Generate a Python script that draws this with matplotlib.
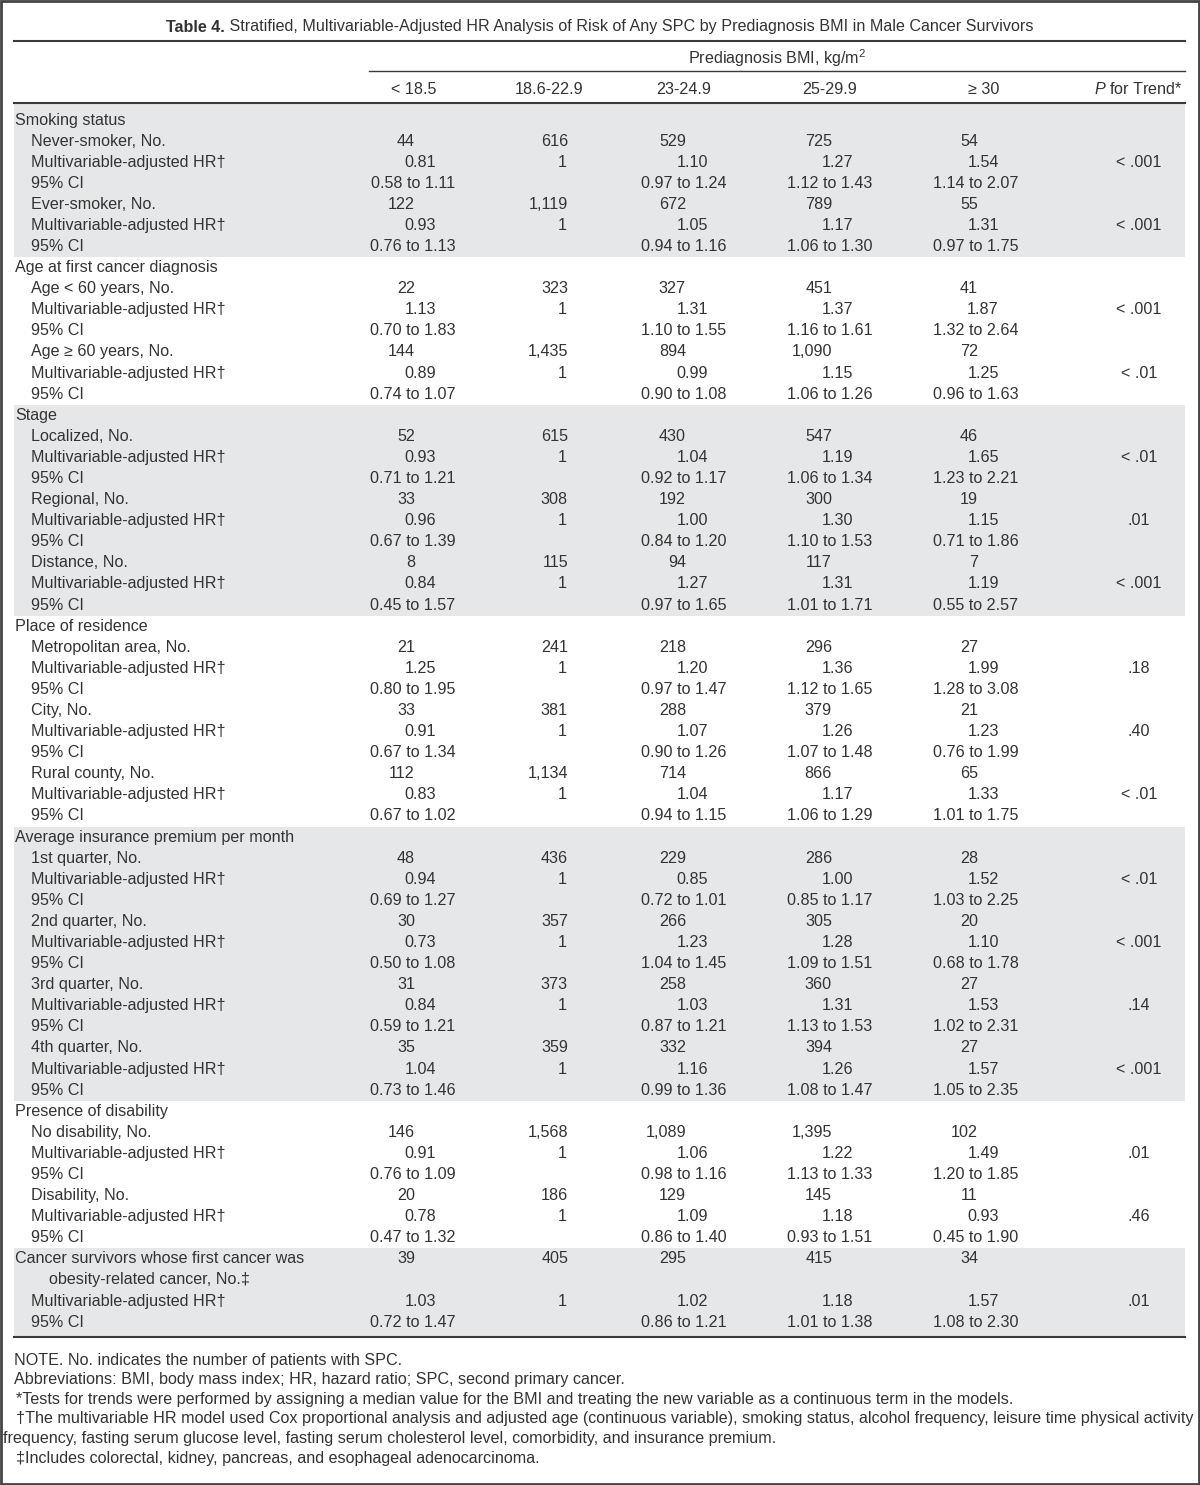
import matplotlib
matplotlib.use("Agg")
import matplotlib.pyplot as plt
from matplotlib.patches import Rectangle

plt.rcParams['font.family'] = ['Liberation Sans', 'DejaVu Sans']
plt.rcParams['mathtext.fontset'] = 'custom'
plt.rcParams['mathtext.rm'] = 'Liberation Sans'
plt.rcParams['mathtext.it'] = 'Liberation Sans:italic'

# ---- table data ----
bmi_groups = ["< 18.5", "18.6-22.9", "23-24.9", "25-29.9", "≥ 30"]

section_names = ["Smoking status", "Age at first cancer diagnosis", "Stage",
                 "Place of residence", "Average insurance premium per month",
                 "Presence of disability",
                 "Cancer survivors whose first cancer was\nobesity-related cancer, No.‡"]

# which section each subgroup belongs to
subgroup_section = [0, 0, 1, 1, 2, 2, 2, 3, 3, 3, 4, 4, 4, 4, 5, 5, 6]
subgroup_labels = ["Never-smoker, No.", "Ever-smoker, No.",
                   "Age < 60 years, No.", "Age ≥ 60 years, No.",
                   "Localized, No.", "Regional, No.", "Distance, No.",
                   "Metropolitan area, No.", "City, No.", "Rural county, No.",
                   "1st quarter, No.", "2nd quarter, No.", "3rd quarter, No.", "4th quarter, No.",
                   "No disability, No.", "Disability, No.",
                   None]

n_spc = [
    [44, 616, 529, 725, 54],
    [122, 1119, 672, 789, 55],
    [22, 323, 327, 451, 41],
    [144, 1435, 894, 1090, 72],
    [52, 615, 430, 547, 46],
    [33, 308, 192, 300, 19],
    [8, 115, 94, 117, 7],
    [21, 241, 218, 296, 27],
    [33, 381, 288, 379, 21],
    [112, 1134, 714, 866, 65],
    [48, 436, 229, 286, 28],
    [30, 357, 266, 305, 20],
    [31, 373, 258, 360, 27],
    [35, 359, 332, 394, 27],
    [146, 1568, 1089, 1395, 102],
    [20, 186, 129, 145, 11],
    [39, 405, 295, 415, 34],
]

hr_adj = [
    [0.81, 1, 1.10, 1.27, 1.54],
    [0.93, 1, 1.05, 1.17, 1.31],
    [1.13, 1, 1.31, 1.37, 1.87],
    [0.89, 1, 0.99, 1.15, 1.25],
    [0.93, 1, 1.04, 1.19, 1.65],
    [0.96, 1, 1.00, 1.30, 1.15],
    [0.84, 1, 1.27, 1.31, 1.19],
    [1.25, 1, 1.20, 1.36, 1.99],
    [0.91, 1, 1.07, 1.26, 1.23],
    [0.83, 1, 1.04, 1.17, 1.33],
    [0.94, 1, 0.85, 1.00, 1.52],
    [0.73, 1, 1.23, 1.28, 1.10],
    [0.84, 1, 1.03, 1.31, 1.53],
    [1.04, 1, 1.16, 1.26, 1.57],
    [0.91, 1, 1.06, 1.22, 1.49],
    [0.78, 1, 1.09, 1.18, 0.93],
    [1.03, 1, 1.02, 1.18, 1.57],
]

ci_low = [
    [0.58, None, 0.97, 1.12, 1.14],
    [0.76, None, 0.94, 1.06, 0.97],
    [0.70, None, 1.10, 1.16, 1.32],
    [0.74, None, 0.90, 1.06, 0.96],
    [0.71, None, 0.92, 1.06, 1.23],
    [0.67, None, 0.84, 1.10, 0.71],
    [0.45, None, 0.97, 1.01, 0.55],
    [0.80, None, 0.97, 1.12, 1.28],
    [0.67, None, 0.90, 1.07, 0.76],
    [0.67, None, 0.94, 1.06, 1.01],
    [0.69, None, 0.72, 0.85, 1.03],
    [0.50, None, 1.04, 1.09, 0.68],
    [0.59, None, 0.87, 1.13, 1.02],
    [0.73, None, 0.99, 1.08, 1.05],
    [0.76, None, 0.98, 1.13, 1.20],
    [0.47, None, 0.86, 0.93, 0.45],
    [0.72, None, 0.86, 1.01, 1.08],
]

ci_high = [
    [1.11, None, 1.24, 1.43, 2.07],
    [1.13, None, 1.16, 1.30, 1.75],
    [1.83, None, 1.55, 1.61, 2.64],
    [1.07, None, 1.08, 1.26, 1.63],
    [1.21, None, 1.17, 1.34, 2.21],
    [1.39, None, 1.20, 1.53, 1.86],
    [1.57, None, 1.65, 1.71, 2.57],
    [1.95, None, 1.47, 1.65, 3.08],
    [1.34, None, 1.26, 1.48, 1.99],
    [1.02, None, 1.15, 1.29, 1.75],
    [1.27, None, 1.01, 1.17, 2.25],
    [1.08, None, 1.45, 1.51, 1.78],
    [1.21, None, 1.21, 1.53, 2.31],
    [1.46, None, 1.36, 1.47, 2.35],
    [1.09, None, 1.16, 1.33, 1.85],
    [1.32, None, 1.40, 1.51, 1.90],
    [1.47, None, 1.21, 1.38, 2.30],
]

p_trend = ["< .001", "< .001", "< .001", "< .01", "< .01", ".01", "< .001",
           ".18", ".40", "< .01", "< .01", "< .001", ".14", "< .001",
           ".01", ".46", ".01"]

footnotes = [
    "NOTE. No. indicates the number of patients with SPC.",
    "Abbreviations: BMI, body mass index; HR, hazard ratio; SPC, second primary cancer.",
    "*Tests for trends were performed by assigning a median value for the BMI and treating the new variable as a continuous term in the models.",
    "†The multivariable HR model used Cox proportional analysis and adjusted age (continuous variable), smoking status, alcohol frequency, leisure time physical activity",
    "frequency, fasting serum glucose level, fasting serum cholesterol level, comorbidity, and insurance premium.",
    "‡Includes colorectal, kidney, pancreas, and esophageal adenocarcinoma.",
]
footnote_x = [14, 14, 16, 16, 3, 16]

# ---- layout ----
TXT = '#333333'
RULE = '#3a3a3a'
SHADE = '#e6e7e8'
FS = 11.6
X_LEFT, X_RIGHT = 14, 1185
count_right = [415, 568, 686, 832, 978]
hr_right = [436, 567, 708, 853, 999]
ci_center = [413, 550, 684, 830, 976]
head_center = [414, 549, 684, 830, 984]
p_center = 1139
row0, pitch = 120, 21.09

fig = plt.figure(figsize=(12, 14.85), dpi=100)
ax = fig.add_axes([0, 0, 1, 1])
ax.set_xlim(0, 1200)
ax.set_ylim(1485, 0)
ax.axis('off')

# title, "Table 4." in bold
t_bold = ax.text(0, 27, "Table 4.", fontsize=FS, fontweight='bold', color=TXT, va='center')
t_rest = ax.text(0, 27, " Stratified, Multivariable-Adjusted HR Analysis of Risk of Any SPC by "
                 "Prediagnosis BMI in Male Cancer Survivors", fontsize=FS, color=TXT, va='center')
fig.canvas.draw()
r = fig.canvas.get_renderer()
w1 = t_bold.get_window_extent(r).width
w2 = t_rest.get_window_extent(r).width
x0 = 600 - (w1 + w2) / 2
t_bold.set_x(x0)
t_rest.set_x(x0 + w1)

ax.plot([X_LEFT, X_RIGHT], [41, 41], color=RULE, lw=1.5)
ax.text(777, 58, "Prediagnosis BMI, kg/m$^2$", fontsize=FS, color=TXT, ha='center', va='center')
ax.plot([369, X_RIGHT], [71, 71], color=RULE, lw=1.0)
for xc, lab in zip(head_center, bmi_groups):
    ax.text(xc, 89, lab, fontsize=FS, color=TXT, ha='center', va='center')
ax.text(1183, 89, "$P$ for Trend*", fontsize=FS, color=TXT, ha='right', va='center')
ax.plot([X_LEFT, X_RIGHT], [103, 103], color=RULE, lw=1.5)

# build the list of rows: (kind, subgroup index, label, label x)
rows = []
for s, name in enumerate(section_names):
    subs = [i for i, sec in enumerate(subgroup_section) if sec == s]
    start = len(rows)
    if subgroup_labels[subs[0]] is None:
        # single group whose label is the section name itself (2 lines)
        i = subs[0]
        first, second = name.split('\n')
        rows.append(('count', i, first, 15))
        rows.append(('label', None, second, 49))
        rows.append(('hr', i, "Multivariable-adjusted HR†", 31))
        rows.append(('ci', i, "95% CI", 31))
    else:
        rows.append(('label', None, name, 15))
        for i in subs:
            rows.append(('count', i, subgroup_labels[i], 31))
            rows.append(('hr', i, "Multivariable-adjusted HR†", 31))
            rows.append(('ci', i, "95% CI", 31))
    end = len(rows) - 1
    # shade every other section
    if s % 2 == 0:
        top = 103 if s == 0 else row0 + (start - 0.5) * pitch
        bot = 1336 if s == len(section_names) - 1 else row0 + (end + 0.5) * pitch
        ax.add_patch(Rectangle((X_LEFT, top), X_RIGHT - X_LEFT, bot - top,
                               facecolor=SHADE, edgecolor='none', zorder=0))

for k, (kind, i, label, lx) in enumerate(rows):
    y = row0 + k * pitch
    ax.text(lx, y, label, fontsize=FS, color=TXT, va='center')
    if kind == 'count':
        for c in range(5):
            ax.text(count_right[c], y, f"{n_spc[i][c]:,}", fontsize=FS, color=TXT,
                    ha='right', va='center')
    elif kind == 'hr':
        for c in range(5):
            v = hr_adj[i][c]
            s = "1" if c == 1 else f"{v:.2f}"
            ax.text(hr_right[c], y, s, fontsize=FS, color=TXT, ha='right', va='center')
        ax.text(p_center, y, p_trend[i], fontsize=FS, color=TXT, ha='center', va='center')
    elif kind == 'ci':
        for c in range(5):
            if ci_low[i][c] is None:
                continue
            ax.text(ci_center[c], y, f"{ci_low[i][c]:.2f} to {ci_high[i][c]:.2f}",
                    fontsize=FS, color=TXT, ha='center', va='center')

ax.plot([X_LEFT, X_RIGHT], [1337, 1337], color=RULE, lw=1.5)

for k, (fx, line) in enumerate(zip(footnote_x, footnotes)):
    ax.text(fx, 1360 + k * 19.6, line, fontsize=FS, color=TXT, va='center')

# outer frame
fig.patches.append(Rectangle((0.001, 0.001), 0.998, 0.998, transform=fig.transFigure,
                             fill=False, edgecolor='#444444', lw=2))

fig.savefig("out.png", dpi=100)
